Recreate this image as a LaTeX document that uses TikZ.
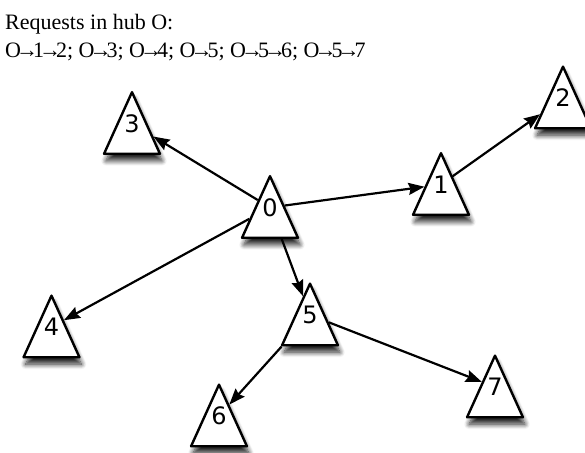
\documentclass[tikz,border=0pt]{standalone}
\usepackage{fontspec}
\usepackage{graphicx}
\setmainfont{Liberation Serif}
\newfontfamily\labfont{DejaVu Sans}
\usetikzlibrary{shapes.geometric,arrows.meta,shadows.blur}
\newcommand{\ra}{\mbox{\kern-5pt→\kern-5pt}}
\newcommand{\lb}[1]{\makebox[0pt]{#1}}
\begin{document}
\begin{tikzpicture}[x=1pt,y=-1pt,
  tri/.style={draw=black, line width=2.4pt, fill=white, line join=round,
    isosceles triangle, shape border rotate=90,
    isosceles triangle apex angle=48.8,
    minimum width=0pt, minimum height=0pt,
    inner xsep=0.5pt, inner ysep=21.5pt, text height=17.5pt, text depth=0pt,
    font=\labfont\fontsize{24}{24}\selectfont,
    blur shadow={shadow xshift=2pt, shadow yshift=-7pt, shadow blur steps=10, shadow blur radius=5pt, shadow opacity=85}},
  link/.style={line width=2.2pt, -{Stealth[length=16pt,width=12pt,inset=2pt]}}]
\useasboundingbox (0,0) rectangle (585,452);
\node[anchor=base west, font=\fontsize{22}{22}\selectfont, inner sep=0pt] (l1) at (5,30) {Requests in hub O:};
\node[anchor=base west, font=\fontsize{22}{22}\selectfont, inner sep=0pt] (l2) at (5,57) {O\ra1\ra2; O\ra3; O\ra4; O\ra5; O\ra5\ra6; O\ra5\ra7};
\node[tri] (n0) at (270,207.5) {\lb{0}};
\node[tri] (n1) at (441,184.5) {\lb{1}};
\node[tri] (n2) at (563,98) {\lb{2}};
\node[tri] (n3) at (132,123.5) {\lb{3}};
\node[tri] (n4) at (51.5,327) {\lb{4}};
\node[tri] (n5) at (310,315) {\lb{5}};
\node[tri] (n6) at (219,416) {\lb{6}};
\node[tri] (n7) at (495,387) {\lb{7}};
\draw[link] (n0) -- (n3);
\draw[link] (n0) -- (n1);
\draw[link] (n1) -- (n2);
\draw[link] (n0) -- (n4);
\draw[link] (n0) -- (n5);
\draw[link] (n5) -- (n6);
\draw[link] (n5) -- (n7);
\end{tikzpicture}
\end{document}
